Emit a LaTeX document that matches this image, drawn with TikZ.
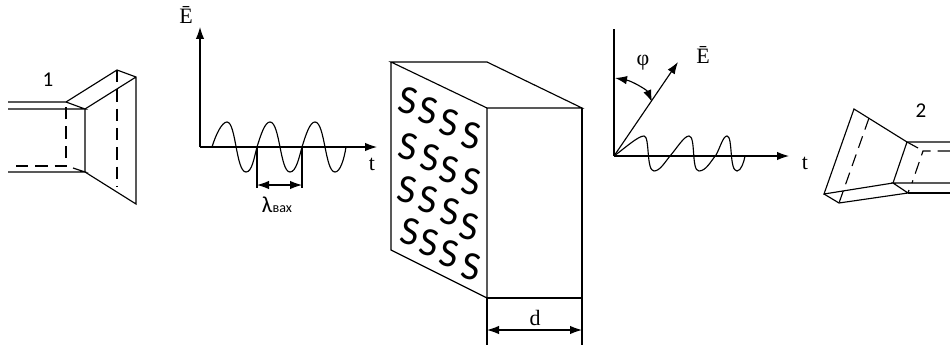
\documentclass[tikz,border=0pt]{standalone}
\usepackage{fontspec}
\setmainfont{Liberation Serif}
\newfontfamily\labelfont{Carlito}
\usetikzlibrary{arrows.meta}

\begin{document}
\begin{tikzpicture}[
    x=0.02cm,
    y=-0.02cm,
    line width=0.65pt,
    >={Latex[length=2.4mm,width=1.7mm]},
    line/.style={
        draw
    },
    hidden/.style={
        draw,
        dash pattern=on 7pt off 4pt
    },
    arrow/.style={
        ->
    },
    both/.style={
        <->
    },
    serif/.style={
        font=\fontsize{12.5}{12.5}\selectfont
    },
    digit/.style={
        font=\labelfont\fontsize{12}{12}\selectfont
    },
    letter/.style={
        inner sep=0pt,
        rotate=-12,
        font=\labelfont\fontsize{23}{23}\selectfont
    }
]

\useasboundingbox (0,0) rectangle (950,345);

% horn 1
\coordinate (h1a) at (66,102);
\coordinate (h1b) at (85,109);
\coordinate (h1c) at (85,172);
\coordinate (h1d) at (117,70);
\coordinate (h1e) at (136,77);
\coordinate (h1f) at (136,204);
\draw[line] (8,102) -- (h1a) -- (h1d) -- (h1e) -- (h1f) -- (h1c) -- (h1b) -- (h1e);
\draw[line] (h1a) -- (h1b) -- (8,109);
\draw[line] (8,172) -- (h1c) -- (73,168);
\draw[hidden] (16,166) -- (66,166) -- (h1a);
\draw[hidden] (h1d) -- (117,186);
\node[digit] (one) at (48,80) {1};

% input wave
\coordinate (o1) at (200,147);
\draw[arrow] (o1) -- (200,27);
\draw[arrow] (o1) -- (377,147);
\draw[line] (212,147) .. controls (216,134) and (222,122) .. (227,122)
    .. controls (236,122) and (236,172) .. (246,172)
    .. controls (252,172) and (254,158) .. (257,147)
    .. controls (261,134) and (265,122) .. (270,122)
    .. controls (280,122) and (280,172) .. (290,172)
    .. controls (296,172) and (299,158) .. (302,147)
    .. controls (306,134) and (310,122) .. (315,122)
    .. controls (325,122) and (325,172) .. (335,172)
    .. controls (340,172) and (344,160) .. (346,147);
\draw[line] (257,147) -- (257,188);
\draw[line] (302,147) -- (302,188);
\draw[both] (257,185) -- (302,185);
\node[serif] (e1) at (186,15) {Ē};
\node[serif] (t1) at (372,164) {t};
\node[digit] (lam) at (277,205) {\fontsize{13}{13}\selectfont λ\fontsize{8}{8}\selectfont вах};

% sample block
\coordinate (b1) at (391,62);
\coordinate (b2) at (487,62);
\coordinate (b3) at (582,108);
\coordinate (b4) at (487,108);
\coordinate (b5) at (391,250);
\coordinate (b6) at (487,298);
\coordinate (b7) at (582,298);
\draw[line] (b4) -- (b1) -- (b2) -- (b3) -- (b4) -- (b6) -- (b5) -- (b1);
\draw[line] (b3) -- (b7) -- (b6);
\draw[line] (b6) -- (487,345);
\draw[line] (b7) -- (582,345);
\draw[both] (487,330) -- (582,330);
\node[serif] (d) at (535,318) {d};

\foreach \px/\py in {408/101,428/111,449/123,471/136,
                     408/147,430/158,449/170,471/182,
                     407/190,428/200,450/212,469/227,
                     410/232,429/243,449/254,471/267}
    \node[letter] at (\px,\py) {S};

% output wave
\coordinate (o2) at (614,156);
\draw[line] (o2) -- (614,29);
\draw[arrow] (o2) -- (789,156);
\draw[arrow] (o2) -- (678,62);
\draw[both] (615,78) .. controls (632,81) and (647,90) .. (652,102);
\draw[line] (o2) .. controls (625,148) and (638,136) .. (644,136)
    .. controls (650,136) and (646,171) .. (654,171)
    .. controls (660,171) and (665,162) .. (670,156)
    .. controls (677,148) and (684,136) .. (689,136)
    .. controls (696,136) and (691,171) .. (699,171)
    .. controls (706,171) and (711,161) .. (716,155)
    .. controls (720,148) and (723,136) .. (727,136)
    .. controls (733,136) and (729,171) .. (737,171)
    .. controls (741,171) and (744,162) .. (745,156);
\node[serif] (e2) at (703,55) {Ē};
\node[serif] (phi) at (643,63) {φ};
\node[serif] (t2) at (805,163) {t};

% horn 2
\coordinate (h2a) at (854,109);
\coordinate (h2b) at (907,142);
\coordinate (h2c) at (893,183);
\coordinate (h2d) at (908,193);
\coordinate (h2e) at (824,194);
\coordinate (h2f) at (839,203);
\draw[line] (950,142) -- (h2b) -- (h2a) -- (h2e) -- (h2c) -- (h2b);
\draw[line] (h2b) -- (918,148);
\draw[line] (h2e) -- (h2f) -- (h2d) -- (h2c) -- (950,183);
\draw[line] (h2d) -- (950,193);
\draw[line] (h2d) -- (909,190);
\draw[hidden] (950,151) -- (923,151) -- (912,183);
\draw[hidden] (869,118) -- (h2f);
\node[digit] (two) at (921,111) {2};

\end{tikzpicture}
\end{document}
